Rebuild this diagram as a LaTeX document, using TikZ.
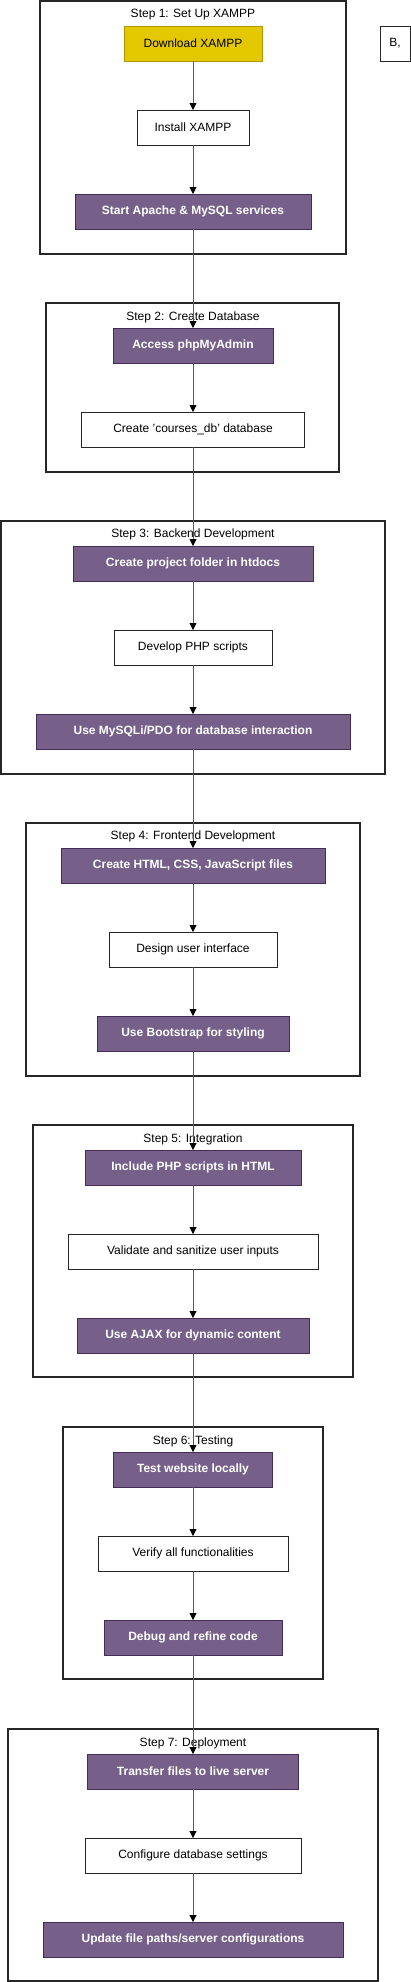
\documentclass[tikz,border=0pt]{standalone}
\usepackage{fontspec}
\setmainfont{Liberation Sans}
\usetikzlibrary{arrows.meta}
\definecolor{yfill}{HTML}{E3C800}
\definecolor{ydraw}{HTML}{B09500}
\definecolor{pfill}{HTML}{76608A}
\definecolor{pdraw}{HTML}{432D57}
\definecolor{edgegray}{HTML}{5A5A5A}
\begin{document}
\begin{tikzpicture}[x=1pt,y=-1pt,
  every node/.style={font=\fontsize{12}{14}\selectfont, inner sep=0pt, outer sep=0pt},
  box/.style={draw=black!85, line width=1pt, fill=white, minimum height=35pt, text=black},
  ybox/.style={box, draw=ydraw, fill=yfill, text=black},
  pbox/.style={box, draw=pdraw, fill=pfill, text=white, font=\fontsize{12}{14}\selectfont\bfseries},
  cluster/.style={draw=black!85, line width=1.3pt, fill=none},
  ctitle/.style={text=black},
  edge/.style={draw=edgegray, line width=0.9pt, -{Triangle[width=7pt,length=7pt,color=black]}}
]
\useasboundingbox (0,0) rectangle (411,1982);
\fill[white] (0,0) rectangle (411,1982);

% clusters
\node[cluster, minimum width=306pt, minimum height=253pt] (c1) at (193,127.5) {};
\node[ctitle] (t1) at (193,15) {Step 1: Set Up XAMPP};
\node[cluster, minimum width=293pt, minimum height=169pt] (c2) at (192.5,387.5) {};
\node[ctitle] (t2) at (193,317) {Step 2: Create Database};
\node[cluster, minimum width=384pt, minimum height=253pt] (c3) at (193,647.5) {};
\node[ctitle] (t3) at (193,534) {Step 3: Backend Development};
\node[cluster, minimum width=334pt, minimum height=253pt] (c4) at (193,949.5) {};
\node[ctitle] (t4) at (193,836) {Step 4: Frontend Development};
\node[cluster, minimum width=320pt, minimum height=252pt] (c5) at (193,1251) {};
\node[ctitle] (t5) at (193,1139) {Step 5: Integration};
\node[cluster, minimum width=260pt, minimum height=252pt] (c6) at (193,1553) {};
\node[ctitle] (t6) at (193,1441) {Step 6: Testing};
\node[cluster, minimum width=370pt, minimum height=252pt] (c7) at (193,1855) {};
\node[ctitle] (t7) at (193,1743) {Step 7: Deployment};

% nodes
\node[ybox, minimum width=138pt] (dl) at (193,43.5) {Download XAMPP};
\node[box, minimum width=112pt] (inst) at (193,127.5) {Install XAMPP};
\node[pbox, minimum width=236pt] (start) at (193,211.5) {Start Apache \& MySQL services};
\node[box, minimum width=30pt] (b) at (395,43.5) {B,};

\node[pbox, minimum width=160pt] (acc) at (193,345.5) {Access phpMyAdmin};
\node[box, minimum width=223pt] (cdb) at (193,429.5) {Create 'courses\_db' database};

\node[pbox, minimum width=240pt] (proj) at (193,563.5) {Create project folder in htdocs};
\node[box, minimum width=158pt] (php) at (193,647.5) {Develop PHP scripts};
\node[pbox, minimum width=314pt] (mysqli) at (193,731.5) {Use MySQLi/PDO for database interaction};

\node[pbox, minimum width=264pt] (html) at (193,865.5) {Create HTML, CSS, JavaScript files};
\node[box, minimum width=168pt] (ui) at (193,949.5) {Design user interface};
\node[pbox, minimum width=192pt] (boot) at (193,1033.5) {Use Bootstrap for styling};

\node[pbox, minimum width=216pt] (inc) at (193,1167.5) {Include PHP scripts in HTML};
\node[box, minimum width=250pt] (val) at (193,1251.5) {Validate and sanitize user inputs};
\node[pbox, minimum width=232pt] (ajax) at (193,1335.5) {Use AJAX for dynamic content};

\node[pbox, minimum width=159pt] (test) at (193,1469.5) {Test website locally};
\node[box, minimum width=190pt] (ver) at (193,1553.5) {Verify all functionalities};
\node[pbox, minimum width=178pt] (dbg) at (193,1637.5) {Debug and refine code};

\node[pbox, minimum width=211pt] (tr) at (193,1771.5) {Transfer files to live server};
\node[box, minimum width=216pt] (conf) at (193,1855.5) {Configure database settings};
\node[pbox, minimum width=300pt] (upd) at (193,1939.5) {Update file paths/server configurations};

% edges
\foreach \a/\b in {dl/inst, inst/start, start/acc, acc/cdb, cdb/proj, proj/php, php/mysqli,
  mysqli/html, html/ui, ui/boot, boot/inc, inc/val, val/ajax, ajax/test, test/ver, ver/dbg,
  dbg/tr, tr/conf, conf/upd}
  \draw[edge] (\a.south) -- (\b.north);
\end{tikzpicture}
\end{document}
